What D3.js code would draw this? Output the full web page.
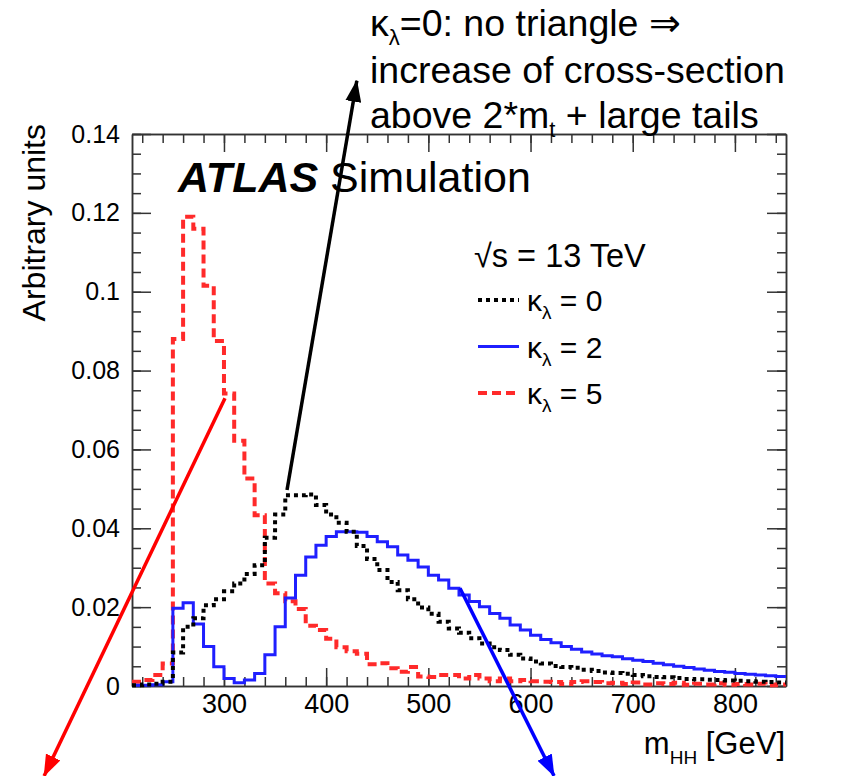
<!DOCTYPE html>
<html>
<head>
<meta charset="utf-8">
<script src="https://cdn.jsdelivr.net/npm/d3@7"></script>
<style>
  body { margin: 0; background: #fff; }
  text { font-family: "Liberation Sans", Arial, sans-serif; fill: #000; }
</style>
</head>
<body>
<div class="chart"></div>
<script>
// bin lower edges, 10 GeV wide
const binLow = d3.range(210, 850, 10);

// kappa_lambda = 0 (black dotted)
const k0 = [0.0002, 0.0004, 0.0006, 0.0011, 0.0085, 0.0150, 0.0172, 0.0205, 0.0220, 0.0240,
  0.0260, 0.0284, 0.0306, 0.0376, 0.0435, 0.0484, 0.0484, 0.0486, 0.0459, 0.0435,
  0.0414, 0.0391, 0.0355, 0.0322, 0.0294, 0.0264, 0.0243, 0.0220, 0.0199, 0.0183,
  0.0163, 0.0146, 0.0135, 0.0121, 0.0108, 0.0098, 0.0091, 0.0079, 0.0070, 0.0062,
  0.0057, 0.0051, 0.0048, 0.0046, 0.0041, 0.0038, 0.0034, 0.0033, 0.0031, 0.0028,
  0.0025, 0.0023, 0.0022, 0.0020, 0.0018, 0.0017, 0.0016, 0.0015, 0.0014, 0.0013,
  0.0012, 0.0011, 0.0010, 0.0009];

// kappa_lambda = 2 (blue solid)
const k2 = [0.0002, 0.0002, 0.0003, 0.0011, 0.0197, 0.0211, 0.0157, 0.0100, 0.0049, 0.0019,
  0.0008, 0.0015, 0.0032, 0.0079, 0.0150, 0.0223, 0.0281, 0.0327, 0.0357, 0.0379,
  0.0391, 0.0391, 0.0390, 0.0379, 0.0366, 0.0353, 0.0332, 0.0319, 0.0302, 0.0281,
  0.0269, 0.0248, 0.0231, 0.0214, 0.0201, 0.0184, 0.0172, 0.0155, 0.0142, 0.0129,
  0.0118, 0.0110, 0.0100, 0.0093, 0.0086, 0.0081, 0.0077, 0.0074, 0.0069, 0.0065,
  0.0062, 0.0058, 0.0054, 0.0050, 0.0047, 0.0043, 0.0040, 0.0037, 0.0035, 0.0032,
  0.0030, 0.0028, 0.0026, 0.0024];

// kappa_lambda = 5 (red dashed)
const k5 = [0.0011, 0.0015, 0.0028, 0.0057, 0.0880, 0.1190, 0.1160, 0.1015, 0.0875, 0.0742,
  0.0622, 0.0526, 0.0433, 0.0260, 0.0235, 0.0215, 0.0195, 0.0153, 0.0142, 0.0120,
  0.0098, 0.0088, 0.0082, 0.0055, 0.0058, 0.0045, 0.0036, 0.0048, 0.0024, 0.0023,
  0.0028, 0.0028, 0.0019, 0.0028, 0.0019, 0.0012, 0.0019, 0.0012, 0.0015, 0.0012,
  0.0011, 0.0010, 0.0005, 0.0010, 0.0012, 0.0010, 0.0007, 0.0008, 0.0005, 0.0009,
  0.0004, 0.0007, 0.0005, 0.0008, 0.0003, 0.0006, 0.0004, 0.0007, 0.0003, 0.0005,
  0.0004, 0.0006, 0.0002, 0.0004];

const xTicks = [300, 400, 500, 600, 700, 800];
const yTicks = [0, 0.02, 0.04, 0.06, 0.08, 0.1, 0.12, 0.14];
const legendLabels = ['0', '2', '5'];

// annotation arrows in data coords: [tail, head]
const arrowBlack = [[361.7, 0.0497], [430, 0.1535]];
const arrowRed = [[301, 0.073], [124, -0.0228]];
const arrowBlue = [[531, 0.0248], [623, -0.0228]];

const width = 861;
const height = 776;

const svg = d3.select('.chart')
  .append('svg')
  .attr('width', width)
  .attr('height', height);

const x = d3.scaleLinear().domain([210, 850]).range([132, 786]);
const y = d3.scaleLinear().domain([0, 0.14]).range([686, 134]);

// step path for a histogram
const histLine = vals => {
  const pts = [];
  vals.forEach((v, i) => {
    pts.push([binLow[i], v]);
    pts.push([binLow[i] + 10, v]);
  });
  return d3.line().x(d => x(d[0])).y(d => y(d[1]))(pts);
};

// frame + axes (ticks pointing inward)
const frameColor = '#333';

function styleAxis(g) {
  g.selectAll('path').attr('stroke', frameColor).attr('stroke-width', 1.5);
  g.selectAll('line').attr('stroke', frameColor).attr('stroke-width', 1.5);
}

const xMinor = d3.range(220, 850, 20);
const yMinor = d3.range(0, 0.1401, 0.005);

svg.append('g').attr('transform', `translate(0,${y(0)})`)
  .call(d3.axisBottom(x).tickValues(xMinor).tickSize(-9).tickSizeOuter(0).tickFormat(''))
  .call(styleAxis);
svg.append('g').attr('transform', `translate(0,${y(0)})`)
  .call(d3.axisBottom(x).tickValues(xTicks).tickSize(-18).tickSizeOuter(0).tickPadding(8))
  .call(styleAxis)
  .selectAll('text').style('font-size', '27px');
svg.append('g').attr('transform', `translate(0,${y(0.14)})`)
  .call(d3.axisTop(x).tickValues(xMinor).tickSize(-9).tickSizeOuter(0).tickFormat(''))
  .call(styleAxis);
svg.append('g').attr('transform', `translate(0,${y(0.14)})`)
  .call(d3.axisTop(x).tickValues(xTicks).tickSize(-18).tickSizeOuter(0).tickFormat(''))
  .call(styleAxis);

svg.append('g').attr('transform', `translate(${x(210)},0)`)
  .call(d3.axisLeft(y).tickValues(yMinor).tickSize(-9).tickSizeOuter(0).tickFormat(''))
  .call(styleAxis);
svg.append('g').attr('transform', `translate(${x(210)},0)`)
  .call(d3.axisLeft(y).tickValues(yTicks).tickSize(-19).tickSizeOuter(0).tickPadding(12)
    .tickFormat(d => d === 0 ? '0' : d3.format('')(+d.toFixed(2))))
  .call(styleAxis)
  .selectAll('text').style('font-size', '25px');
svg.append('g').attr('transform', `translate(${x(850)},0)`)
  .call(d3.axisRight(y).tickValues(yMinor).tickSize(-9).tickSizeOuter(0).tickFormat(''))
  .call(styleAxis);
svg.append('g').attr('transform', `translate(${x(850)},0)`)
  .call(d3.axisRight(y).tickValues(yTicks).tickSize(-19).tickSizeOuter(0).tickFormat(''))
  .call(styleAxis);

svg.selectAll('.tick text').attr('fill', '#000').style('font-family', 'Liberation Sans, Arial');

// histograms
svg.append('path').attr('d', histLine(k5))
  .attr('fill', 'none').attr('stroke', '#ff2a2a').attr('stroke-width', 4)
  .attr('stroke-dasharray', '9,5');
svg.append('path').attr('d', histLine(k2))
  .attr('fill', 'none').attr('stroke', '#1f1fff').attr('stroke-width', 3);
svg.append('path').attr('d', histLine(k0))
  .attr('fill', 'none').attr('stroke', '#000').attr('stroke-width', 4)
  .attr('stroke-dasharray', '4,4');

// axis titles
svg.append('text')
  .attr('transform', `translate(45,124) rotate(-90)`)
  .attr('text-anchor', 'end')
  .style('font-size', '32px')
  .text('Arbitrary units');

const xt = svg.append('text')
  .attr('x', 785).attr('y', 754)
  .attr('text-anchor', 'end')
  .style('font-size', '31px');
xt.append('tspan').text('m');
xt.append('tspan').attr('dy', 10).style('font-size', '19px').text('HH');
xt.append('tspan').attr('dy', -10).text(' [GeV]');

// ATLAS label
const atl = svg.append('text').attr('x', 178).attr('y', 192).style('font-size', '43px');
atl.append('tspan').style('font-weight', 'bold').style('font-style', 'italic').text('ATLAS');
atl.append('tspan').text(' Simulation');

// legend
svg.append('text').attr('x', 474).attr('y', 267).style('font-size', '32.5px').text('\u221As = 13 TeV');

const legendRows = [
  {lab: legendLabels[0], color: '#000', w: 4, dash: '4,4'},
  {lab: legendLabels[1], color: '#1f1fff', w: 3, dash: null},
  {lab: legendLabels[2], color: '#ff2a2a', w: 4, dash: '9,5'}
];
legendRows.forEach((r, i) => {
  const cy = 300 + i * 46.5;
  svg.append('line')
    .attr('x1', 478).attr('x2', 519).attr('y1', cy).attr('y2', cy)
    .attr('stroke', r.color).attr('stroke-width', r.w)
    .attr('stroke-dasharray', r.dash);
  const t = svg.append('text').attr('x', 527).attr('y', cy + 11).style('font-size', '30px');
  t.append('tspan').text('\u03BA');
  t.append('tspan').attr('dy', 8).style('font-size', '19px').text('\u03BB');
  t.append('tspan').attr('dy', -8).text(' = ' + r.lab);
});

// annotation arrows
const defs = svg.append('defs');
function marker(id, color) {
  defs.append('marker')
    .attr('id', id)
    .attr('viewBox', '0 0 22 16')
    .attr('refX', 21).attr('refY', 8)
    .attr('markerWidth', 22).attr('markerHeight', 16)
    .attr('markerUnits', 'userSpaceOnUse')
    .attr('orient', 'auto')
    .append('path').attr('d', 'M0,0 L22,8 L0,16 Z').attr('fill', color);
}
marker('headBlack', '#000');
marker('headRed', '#ff0000');
marker('headBlue', '#0000ff');

function arrow(a, color, id) {
  svg.append('line')
    .attr('x1', x(a[0][0])).attr('y1', y(a[0][1]))
    .attr('x2', x(a[1][0])).attr('y2', y(a[1][1]))
    .attr('stroke', color).attr('stroke-width', 3.5)
    .attr('marker-end', `url(#${id})`);
}
arrow(arrowBlack, '#000', 'headBlack');
arrow(arrowRed, '#ff0000', 'headRed');
arrow(arrowBlue, '#0000ff', 'headBlue');

// annotation text
const note = svg.append('g').style('font-size', '37.5px');
const l1 = note.append('text').attr('x', 370).attr('y', 36);
l1.append('tspan').text('\u03BA');
l1.append('tspan').attr('dy', 9).style('font-size', '22px').text('\u03BB');
l1.append('tspan').attr('dy', -9).text('=0: no triangle \u21D2');
note.append('text').attr('x', 370).attr('y', 83).text('increase of cross-section');
const l3 = note.append('text').attr('x', 370).attr('y', 128);
l3.append('tspan').text('above 2*m');
l3.append('tspan').attr('dy', 9).style('font-size', '22px').text('t');
l3.append('tspan').attr('dy', -9).text(' + large tails');
</script>
</body>
</html>
